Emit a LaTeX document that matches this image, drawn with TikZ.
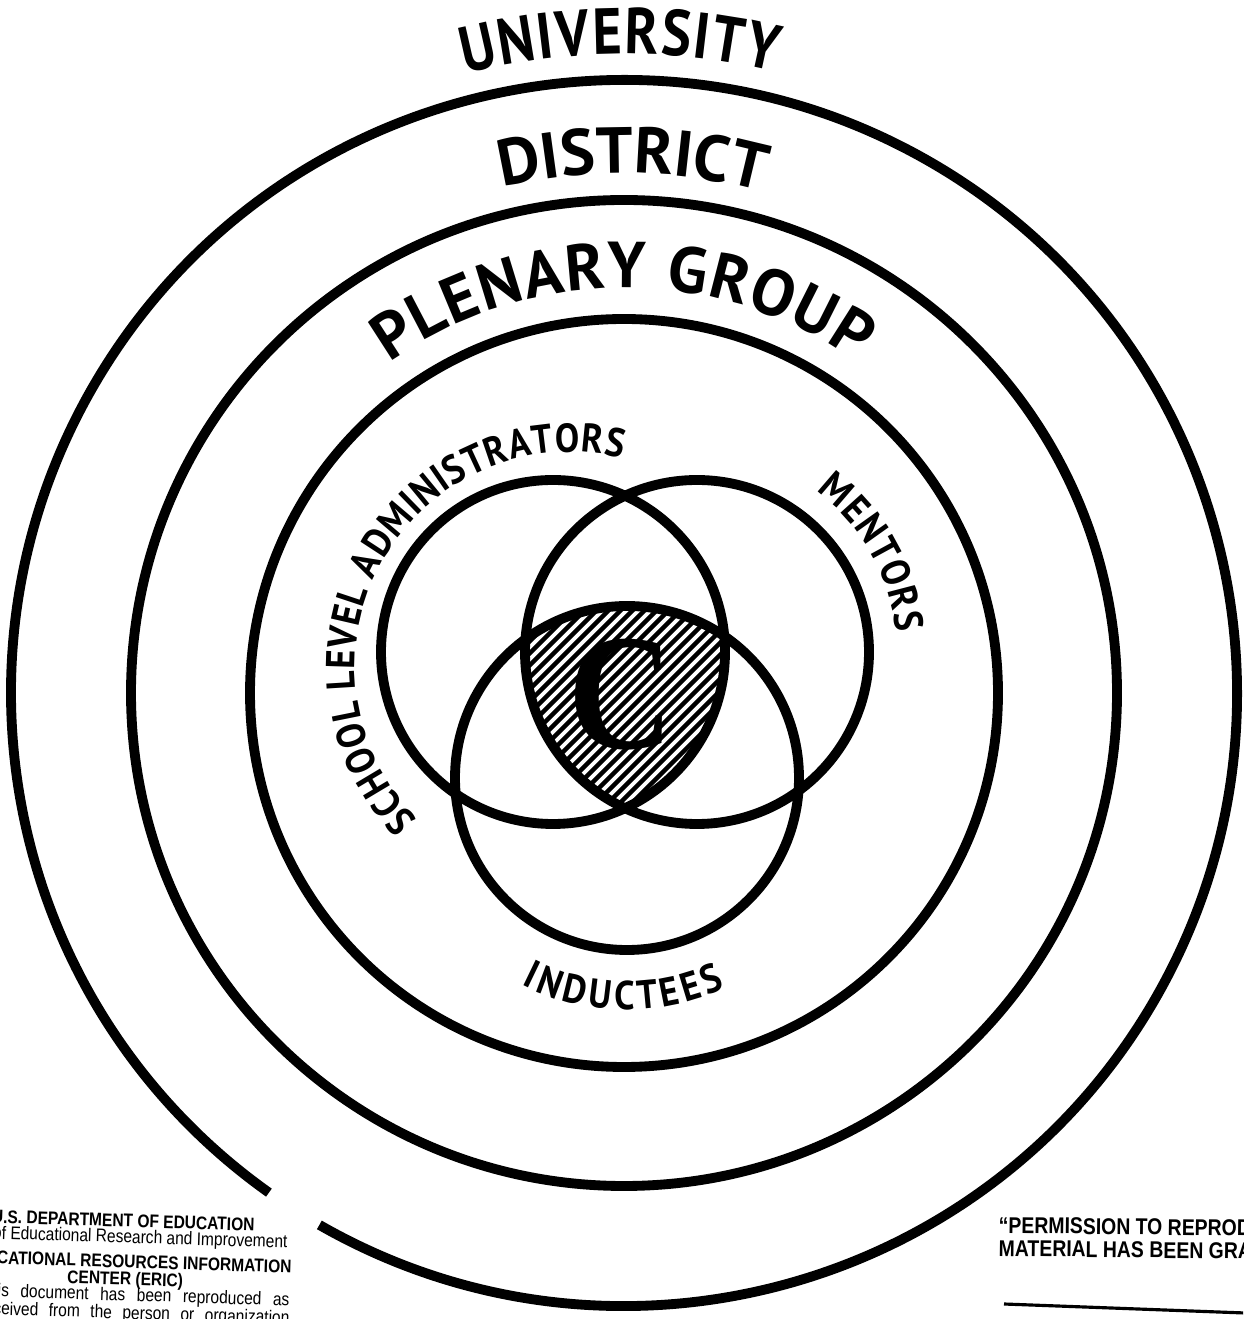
\documentclass[tikz,border=0pt]{standalone}
\usepackage{fontspec}
\newfontfamily\ringfont{PT Sans}
\newfontfamily\narrowfont[FakeStretch=0.86]{PT Sans}
\newfontfamily\innerfont[FakeStretch=0.9]{PT Sans}
\newfontfamily\stampfont[FakeStretch=0.85]{Liberation Sans}
\newfontfamily\corefont{Liberation Serif}
\usetikzlibrary{calc,decorations.text}

\newcommand\bigring{\ringfont\bfseries\fontsize{18.5}{18.5}\selectfont}
\newcommand\topring{\narrowfont\bfseries\fontsize{18.5}{18.5}\selectfont}
\newcommand\smallring{\innerfont\bfseries\fontsize{11.5}{11.5}\selectfont}

\begin{document}
\begin{tikzpicture}[
  ring/.style={line width=2.8pt},
  hatchline/.style={line width=1.25pt},
  stamp/.style={inner sep=0pt, rotate=-1.8, font=\stampfont\fontsize{5.2}{6}\selectfont},
  grant/.style={inner sep=0pt, rotate=-0.7, anchor=base west, font=\stampfont\bfseries\fontsize{6.5}{7}\selectfont},
  arclabel/.style 2 args={decorate, decoration={text along path, text align={fit to path}, text={|#1|#2}}}
]
\useasboundingbox (0,0) rectangle (12.43,13.19);
\clip (0,0) rectangle (12.43,13.19);

\coordinate (ctr) at (6.24,6.26);
\coordinate (adm) at (5.53,6.67);
\coordinate (men) at (6.97,6.67);
\coordinate (ind) at (6.27,5.41);

% hatched core
\begin{scope}
\clip (adm) circle (1.72);
\clip (men) circle (1.72);
\clip (ind) circle (1.72);
\foreach \c in {-2.0,-1.88,...,2.0}
  \draw[hatchline] (4.5,{4.5+(\c)}) -- (8.5,{8.5+(\c)});
\end{scope}

% rings, outer one broken at lower left
\draw[ring] ($(ctr)+(240.2:6.13)$) arc[start angle=240.2, end angle=594.6, radius=6.13];
\draw[ring] (ctr) circle (4.93);
\draw[ring] (ctr) circle (3.74);
\draw[ring] (adm) circle (1.72);
\draw[ring] (men) circle (1.72);
\draw[ring] (ind) circle (1.72);

\node[inner sep=0pt] (core) at (6.21,6.24) {\corefont\bfseries\fontsize{47}{47}\selectfont\scalebox{0.88}[1]{C}};

% labels along the rings
\path[arclabel={\topring}{UNIVERSITY}] ($(ctr)+(104.4:6.39)$) arc[start angle=104.4, end angle=76.3, radius=6.39];
\path[arclabel={\bigring}{DISTRICT}] ($(ctr)+(103.5:5.20)$) arc[start angle=103.5, end angle=75.5, radius=5.20];
\path[arclabel={\bigring}{PLENARY GROUP}] ($(ctr)+(125.4:4.05)$) arc[start angle=125.4, end angle=55, radius=4.05];
\path[arclabel={\smallring}{SCHOOL LEVEL ADMINISTRATORS}] ($(5.70,6.52)+(225:2.15)$) arc[start angle=225, end angle=76, radius=2.15];
\path[arclabel={\smallring}{MENTORS}] ($(men)+(53.5:2.00)$) arc[start angle=53.5, end angle=5.5, radius=2.00];
\path[arclabel={\smallring}{INDUCTEES}] ($(ind)+(243:2.32)$) arc[start angle=243, end angle=295, radius=2.32];

% stamp text at the foot of the page
\node[stamp, anchor=base east] (eric1) at (2.55,0.88) {\bfseries U.S. DEPARTMENT OF EDUCATION};
\node[stamp, anchor=base east] (eric2) at (2.88,0.71) {Office of Educational Research and Improvement};
\node[stamp, anchor=base east] (eric3) at (2.92,0.46) {\bfseries EDUCATIONAL RESOURCES INFORMATION};
\node[stamp, anchor=base] (eric4) at (1.25,0.34) {\bfseries CENTER (ERIC)};
\node[stamp, anchor=base east] (eric5) at (2.90,0.13) {\makebox[3.1cm][s]{This document has been reproduced as}};
\node[stamp, anchor=base east] (eric6) at (2.90,-0.05) {\makebox[3.1cm][s]{received from the person or organization}};

\node[grant] (perm1) at (9.98,0.86) {“PERMISSION TO REPRODUCE THIS};
\node[grant] (perm2) at (9.98,0.63) {MATERIAL HAS BEEN GRANTED BY};
\coordinate (sigA) at (10.04,0.15);
\coordinate (sigB) at (12.45,0.06);
\draw[line width=0.9pt] (sigA) -- (sigB);
\end{tikzpicture}
\end{document}
